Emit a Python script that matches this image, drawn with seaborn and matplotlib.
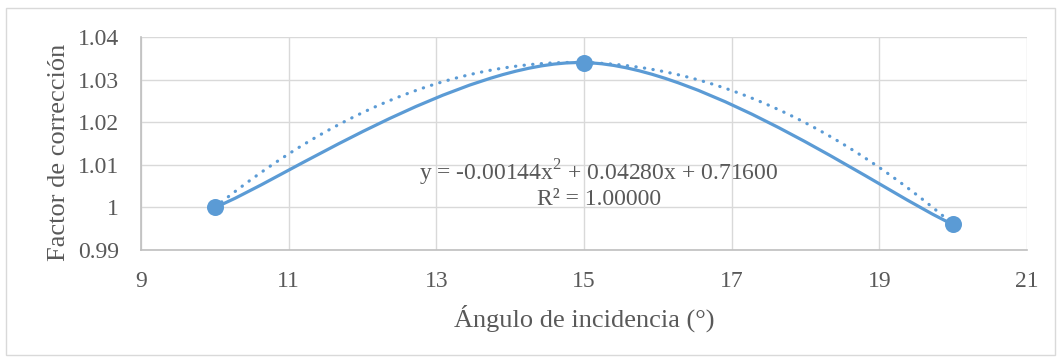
import numpy as np
import pandas as pd
import matplotlib.pyplot as plt
from matplotlib.path import Path
from matplotlib.patches import PathPatch, Rectangle
import seaborn as sns

# Data
angulo = [10, 15, 20]
factor = [1.000, 1.034, 0.996]
x_ticks = [9, 11, 13, 15, 17, 19, 21]
y_ticks = [0.99, 1.00, 1.01, 1.02, 1.03, 1.04]
y_tick_labels = ["0.99", "1", "1.01", "1.02", "1.03", "1.04"]
ecuacion = "y = -0.00144x$^2$ + 0.04280x + 0.71600\nR² = 1.00000"

df = pd.DataFrame({"angulo": angulo, "factor": factor})

sns.set_theme(style="white")
plt.rcParams["font.family"] = ["Liberation Serif", "DejaVu Serif"]
plt.rcParams["mathtext.fontset"] = "custom"
plt.rcParams["mathtext.rm"] = "Liberation Serif"

azul = "#5B9BD5"
gris_txt = "#595959"

fig = plt.figure(figsize=(10.6, 3.58), dpi=100)
ax = fig.add_axes([141 / 1060, 1 - 250 / 358, (1027 - 141) / 1060, (250 - 37) / 358])

# outer chart border
fig.patches.append(Rectangle((6 / 1060, 3 / 358), 1049 / 1060, 347 / 358,
                             transform=fig.transFigure, fill=False,
                             edgecolor="#D9D9D9", linewidth=1))

# smoothed line like Excel (bezier through the points)
pts = df[["angulo", "factor"]].to_numpy(dtype=float)
verts = [pts[0]]
codes = [Path.MOVETO]
n = len(pts)
for i in range(n - 1):
    p0 = pts[max(i - 1, 0)]
    p1 = pts[i]
    p2 = pts[i + 1]
    p3 = pts[min(i + 2, n - 1)]
    c1 = p1 + (p2 - p0) / 6
    c2 = p2 - (p3 - p1) / 6
    verts += [c1, c2, p2]
    codes += [Path.CURVE4] * 3
ax.add_patch(PathPatch(Path(verts, codes), facecolor="none", edgecolor=azul,
                       linewidth=2.3, capstyle="round", zorder=3))

# polynomial trendline (order 2)
sns.regplot(data=df, x="angulo", y="factor", order=2, ci=None, scatter=False,
            ax=ax, line_kws=dict(color=azul, linewidth=2.3,
                                 linestyle=(0, (0.1, 2.6)),
                                 dash_capstyle="round", zorder=3))

sns.scatterplot(data=df, x="angulo", y="factor", ax=ax, color=azul, s=150,
                edgecolor=azul, linewidth=0, zorder=4)

ax.set_xlim(9, 21)
ax.set_ylim(0.99, 1.04)
ax.set_xticks(x_ticks)
ax.set_yticks(y_ticks)
ax.set_yticklabels(y_tick_labels)
ax.grid(True, color="#D9D9D9", linewidth=1)
ax.set_axisbelow(True)
for s in ["top", "right"]:
    ax.spines[s].set_visible(False)
for s in ["left", "bottom"]:
    ax.spines[s].set_color("#BFBFBF")
    ax.spines[s].set_linewidth(1.2)
ax.tick_params(axis="y", length=0, labelsize=17, colors=gris_txt, pad=16)
ax.tick_params(axis="x", length=0, labelsize=17, colors=gris_txt, pad=15)

ax.set_xlabel("Ángulo de incidencia (°)", fontsize=19, color=gris_txt, labelpad=9)
ax.set_ylabel("Factor de corrección", fontsize=19, color=gris_txt)
ax.yaxis.set_label_coords(-0.08, 0.46)

ax.text(15.2, 1.0055, ecuacion, ha="center", va="center", fontsize=17,
        color=gris_txt, linespacing=1.1)

fig.savefig("out.png", dpi=100)
